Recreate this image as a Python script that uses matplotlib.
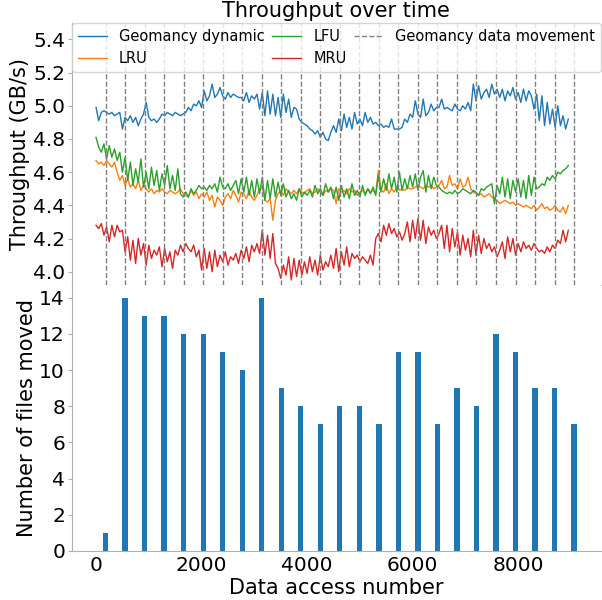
import numpy as np
import matplotlib
matplotlib.use("Agg")
import matplotlib.pyplot as plt

# access number for the throughput samples (every 50 accesses)
access = np.arange(0, 9000, 50)

geomancy = [
    4.99, 4.91, 4.96, 4.97, 4.96, 4.95, 4.96, 4.94, 4.95, 4.96,
    4.86, 4.93, 4.91, 4.94, 4.90, 4.93, 4.88, 4.92, 4.95, 5.02,
    4.93, 4.91, 4.92, 4.90, 4.92, 4.95, 4.94, 4.96, 4.95, 4.94,
    4.96, 4.95, 4.94, 4.95, 4.96, 4.99, 4.97, 5.01, 5.00, 5.03,
    4.99, 5.09, 5.03, 5.06, 5.13, 5.05, 5.07, 5.11, 5.06, 5.04,
    5.08, 5.05, 5.07, 5.06, 5.05, 5.05, 5.03, 5.08, 5.02, 5.06,
    5.04, 5.07, 4.98, 5.08, 4.94, 5.09, 4.95, 5.07, 4.94, 5.05,
    4.93, 5.07, 4.96, 5.04, 4.93, 4.99, 4.98, 4.92, 4.90, 4.89,
    4.88, 4.86, 4.85, 4.83, 4.85, 4.81, 4.84, 4.80, 4.79, 4.84,
    4.88, 4.84, 4.92, 4.85, 4.95, 4.87, 4.93, 4.86, 4.96, 4.89,
    4.92, 4.88, 4.96, 4.90, 4.93, 4.89, 4.90, 4.88, 4.89, 4.87,
    4.88, 4.87, 4.92, 4.86, 4.86, 4.86, 4.87, 4.92, 4.90, 4.95,
    4.93, 5.03, 4.95, 4.93, 5.04, 4.94, 4.96, 5.01, 4.97, 4.99,
    4.99, 5.04, 4.98, 4.99, 4.98, 4.97, 5.01, 4.98, 4.97, 5.00,
    4.98, 5.02, 4.97, 5.13, 5.03, 5.12, 5.04, 5.08, 5.10, 5.05,
    5.13, 5.07, 5.10, 5.05, 5.10, 5.03, 5.09, 5.06, 5.11, 5.04,
    5.08, 5.02, 5.10, 5.03, 5.09, 5.06, 4.98, 5.07, 4.91, 5.06,
    4.88, 5.02, 4.89, 4.98, 4.87, 5.00, 4.88, 4.94, 4.86, 4.92,
]

lru = [
    4.67, 4.65, 4.66, 4.64, 4.67, 4.65, 4.63, 4.66, 4.60, 4.55,
    4.58, 4.52, 4.56, 4.51, 4.53, 4.50, 4.55, 4.49, 4.52, 4.50,
    4.48, 4.50, 4.47, 4.49, 4.48, 4.50, 4.48, 4.47, 4.49, 4.48,
    4.47, 4.48, 4.50, 4.47, 4.46, 4.45, 4.49, 4.46, 4.48, 4.44,
    4.47, 4.45, 4.48, 4.43, 4.46, 4.39, 4.45, 4.43, 4.40, 4.45,
    4.47, 4.44, 4.49, 4.46, 4.42, 4.48, 4.47, 4.44, 4.49, 4.45,
    4.43, 4.46, 4.50, 4.51, 4.43, 4.42, 4.44, 4.31, 4.43, 4.47,
    4.49, 4.46, 4.50, 4.48, 4.47, 4.49, 4.47, 4.50, 4.48, 4.47,
    4.49, 4.50, 4.47, 4.48, 4.50, 4.48, 4.46, 4.49, 4.48, 4.50,
    4.49, 4.41, 4.50, 4.48, 4.49, 4.47, 4.50, 4.48, 4.49, 4.46,
    4.48, 4.49, 4.47, 4.50, 4.48, 4.49, 4.47, 4.61, 4.49, 4.48,
    4.53, 4.47, 4.50, 4.48, 4.51, 4.49, 4.50, 4.49, 4.51, 4.50,
    4.50, 4.51, 4.52, 4.51, 4.50, 4.52, 4.51, 4.52, 4.50, 4.51,
    4.52, 4.55, 4.50, 4.51, 4.58, 4.52, 4.53, 4.50, 4.56, 4.51,
    4.52, 4.57, 4.50, 4.48, 4.47, 4.46, 4.47, 4.45, 4.46, 4.47,
    4.45, 4.44, 4.43, 4.41, 4.42, 4.43, 4.42, 4.41, 4.42, 4.40,
    4.41, 4.40, 4.39, 4.40, 4.39, 4.38, 4.40, 4.37, 4.39, 4.41,
    4.38, 4.39, 4.37, 4.38, 4.40, 4.37, 4.36, 4.39, 4.35, 4.40,
]

lfu = [
    4.81, 4.75, 4.72, 4.77, 4.68, 4.76, 4.69, 4.74, 4.67, 4.72,
    4.60, 4.69, 4.55, 4.66, 4.52, 4.62, 4.54, 4.68, 4.51, 4.60,
    4.50, 4.63, 4.52, 4.61, 4.49, 4.59, 4.52, 4.64, 4.50, 4.58,
    4.49, 4.62, 4.47, 4.45, 4.48, 4.45, 4.50, 4.47, 4.49, 4.52,
    4.50, 4.51, 4.49, 4.52, 4.50, 4.53, 4.48, 4.57, 4.51, 4.50,
    4.53, 4.49, 4.52, 4.55, 4.47, 4.56, 4.48, 4.57, 4.46, 4.55,
    4.45, 4.56, 4.47, 4.57, 4.43, 4.55, 4.44, 4.56, 4.45, 4.54,
    4.46, 4.53, 4.45, 4.49, 4.44, 4.47, 4.43, 4.50, 4.45, 4.48,
    4.46, 4.49, 4.45, 4.52, 4.47, 4.50, 4.46, 4.53, 4.48, 4.51,
    4.44, 4.51, 4.43, 4.52, 4.45, 4.50, 4.44, 4.53, 4.46, 4.49,
    4.45, 4.52, 4.46, 4.50, 4.47, 4.51, 4.46, 4.58, 4.48, 4.56,
    4.49, 4.59, 4.50, 4.57, 4.48, 4.60, 4.49, 4.56, 4.50, 4.58,
    4.51, 4.59, 4.49, 4.57, 4.61, 4.48, 4.58, 4.50, 4.57, 4.52,
    4.51, 4.49, 4.48, 4.47, 4.48, 4.47, 4.49, 4.47, 4.48, 4.50,
    4.49, 4.48, 4.47, 4.49, 4.48, 4.46, 4.50, 4.49, 4.51, 4.52,
    4.53, 4.41, 4.52, 4.47, 4.57, 4.45, 4.56, 4.44, 4.55, 4.48,
    4.56, 4.45, 4.55, 4.44, 4.58, 4.46, 4.57, 4.50, 4.51, 4.53,
    4.52, 4.57, 4.55, 4.58, 4.56, 4.60, 4.59, 4.61, 4.62, 4.64,
]

mru = [
    4.28, 4.26, 4.29, 4.22, 4.27, 4.18, 4.28, 4.21, 4.28, 4.24,
    4.25, 4.12, 4.21, 4.07, 4.19, 4.05, 4.20, 4.10, 4.17, 4.04,
    4.16, 4.08, 4.13, 4.10, 4.15, 4.03, 4.14, 4.06, 4.12, 4.02,
    4.13, 4.10, 4.16, 4.12, 4.17, 4.14, 4.12, 4.16, 4.09, 4.13,
    4.01, 4.14, 4.02, 4.12, 4.00, 4.13, 4.03, 4.10, 4.06, 4.12,
    4.04, 4.09, 4.07, 4.11, 4.05, 4.13, 4.08, 4.15, 4.06, 4.16,
    4.12, 4.17, 4.11, 4.25, 4.10, 4.22, 4.08, 4.23, 4.05, 4.02,
    3.96, 4.04, 3.98, 4.09, 3.95, 4.08, 3.97, 4.07, 3.98, 4.06,
    3.99, 4.09, 4.00, 4.07, 3.98, 4.10, 4.01, 4.06, 4.03, 4.10,
    4.02, 4.14, 4.00, 4.12, 4.04, 4.15, 4.03, 4.11, 4.08, 4.10,
    4.06, 4.09, 4.07, 4.05, 4.10, 4.04, 4.20, 4.23, 4.18, 4.28,
    4.22, 4.29, 4.23, 4.26, 4.21, 4.24, 4.19, 4.23, 4.30, 4.18,
    4.31, 4.20, 4.32, 4.19, 4.31, 4.17, 4.27, 4.22, 4.25, 4.20,
    4.23, 4.28, 4.14, 4.28, 4.12, 4.26, 4.15, 4.24, 4.10, 4.22,
    4.13, 4.20, 4.09, 4.25, 4.10, 4.22, 4.11, 4.20, 4.14, 4.17,
    4.12, 4.15, 4.09, 4.13, 4.18, 4.08, 4.21, 4.12, 4.20, 4.10,
    4.17, 4.12, 4.18, 4.14, 4.16, 4.13, 4.17, 4.14, 4.12, 4.13,
    4.11, 4.15, 4.12, 4.16, 4.14, 4.19, 4.17, 4.25, 4.18, 4.25,
]

# data movement events
move_at = [180, 550, 920, 1290, 1660, 2030, 2400, 2770, 3140, 3510,
           3880, 4250, 4620, 4990, 5360, 5730, 6100, 6470, 6840, 7210,
           7580, 7950, 8320, 8690, 9060]
files_moved = [1, 14, 13, 13, 12, 12, 11, 10, 14, 9,
               8, 7, 8, 8, 7, 11, 11, 7, 9, 8,
               12, 11, 9, 9, 7]

spine_col = '#b0b0b0'

fig = plt.figure(figsize=(6.02, 6.0), dpi=100)
ax1 = fig.add_axes([0.1196, 0.525, 0.8784, 0.437])
ax2 = fig.add_axes([0.1196, 0.0817, 0.8784, 0.4433], sharex=ax1)

ax1.plot(access, geomancy, color='C0', lw=1, label='Geomancy dynamic')
ax1.plot(access, lru, color='C1', lw=1, label='LRU')
ax1.plot(access, lfu, color='C2', lw=1, label='LFU')
ax1.plot(access, mru, color='C3', lw=1, label='MRU')
for i, m in enumerate(move_at):
    ax1.axvline(m, color='gray', ls='--', lw=1,
                label='Geomancy data movement' if i == 0 else None)

ax1.set_ylim(3.92, 5.5)
ax1.set_yticks(np.arange(4.0, 5.41, 0.2))
ax1.set_title('Throughput over time', fontsize=15, pad=4)
ax1.set_ylabel('Throughput (GB/s)', fontsize=15, labelpad=2)
ax1.legend(loc='upper left', bbox_to_anchor=(0., 1.0, 1., 0.), ncol=3,
           mode='expand', borderaxespad=0, fontsize=10.5)
ax1.tick_params(axis='x', which='both', length=0, labelbottom=False)

ax2.bar(move_at, files_moved, width=100, color='C0')
ax2.set_yticks(range(0, 15, 2))
ax2.set_ylabel('Number of files moved', fontsize=15, labelpad=2)
ax2.set_xlabel('Data access number', fontsize=15, labelpad=2)
ax2.tick_params(axis='x', length=0)

for ax in (ax1, ax2):
    for side in ('top', 'right'):
        ax.spines[side].set_visible(False)
    for side in ('left', 'bottom'):
        ax.spines[side].set_color(spine_col)
    ax.tick_params(axis='y', length=3, pad=2, color=spine_col)
    ax.tick_params(labelsize=14.5)

fig.savefig('out.png', dpi=100)
